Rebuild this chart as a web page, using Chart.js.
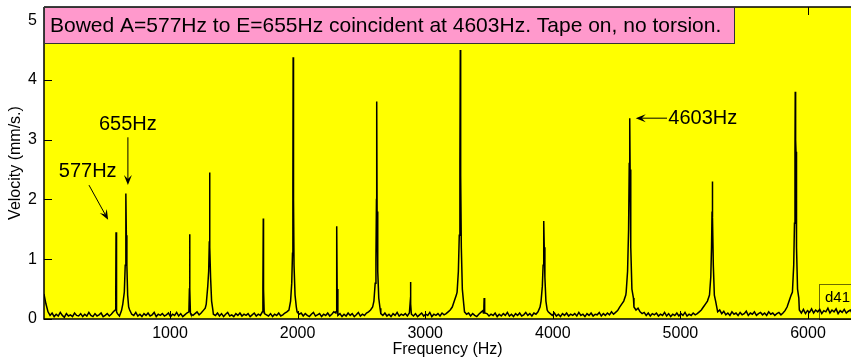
<!DOCTYPE html>
<html><head><meta charset="utf-8">
<script src="https://cdn.jsdelivr.net/npm/chart.js@4/dist/chart.umd.min.js"></script>
<style>html,body{margin:0;padding:0;background:#fff;overflow:hidden}canvas{display:block}</style>
</head><body><canvas id="c" width="851" height="359"></canvas>
<script>
// Background noise floor, sampled every 16 Hz starting at 12 Hz (mm/s)
const noiseStartHz = 12;
const noiseStepHz = 16;
const noiseVelocity = [
0.42,0.25,0.12,0.06,0.10,0.04,0.08,0.05,0.11,0.06,0.03,0.09,0.05,0.07,0.04,0.10,0.06,0.05,0.09,0.04,
0.08,0.05,0.11,0.06,0.04,0.09,0.05,0.07,0.10,0.04,0.06,0.09,0.05,0.08,0.12,0.06,0.09,0.05,0.14,0.10,
0.12,0.09,0.15,0.08,0.06,0.11,0.05,0.08,0.04,0.09,0.06,0.10,0.05,0.07,0.11,0.04,0.08,0.06,0.09,0.05,
0.07,0.10,0.04,0.08,0.06,0.11,0.05,0.09,0.04,0.07,0.10,0.05,0.08,0.06,0.09,0.12,0.07,0.10,0.14,0.18,
0.20,0.30,0.15,0.08,0.06,0.10,0.05,0.09,0.04,0.08,0.11,0.05,0.07,0.04,0.09,0.06,0.10,0.05,0.08,0.06,
0.09,0.04,0.07,0.10,0.05,0.08,0.06,0.11,0.09,0.07,0.05,0.09,0.04,0.08,0.06,0.10,0.05,0.07,0.10,0.12,
0.15,0.20,0.30,0.20,0.12,0.08,0.10,0.05,0.09,0.06,0.04,0.08,0.11,0.05,0.07,0.09,0.04,0.08,0.06,0.10,
0.05,0.08,0.12,0.10,0.06,0.09,0.04,0.08,0.05,0.10,0.06,0.09,0.04,0.07,0.11,0.05,0.08,0.06,0.10,0.12,
0.15,0.20,0.30,0.20,0.14,0.09,0.06,0.10,0.05,0.08,0.04,0.09,0.06,0.11,0.05,0.08,0.06,0.09,0.05,0.10,
0.08,0.05,0.09,0.04,0.07,0.10,0.05,0.08,0.06,0.11,0.04,0.08,0.06,0.09,0.05,0.10,0.07,0.09,0.12,0.15,
0.20,0.30,0.40,0.50,0.30,0.20,0.12,0.08,0.10,0.05,0.09,0.06,0.04,0.08,0.11,0.14,0.06,0.09,0.05,0.08,
0.06,0.10,0.04,0.08,0.05,0.09,0.06,0.11,0.05,0.08,0.04,0.09,0.06,0.10,0.05,0.07,0.11,0.06,0.09,0.05,
0.10,0.08,0.12,0.20,0.30,0.40,0.20,0.12,0.09,0.06,0.10,0.05,0.08,0.04,0.09,0.06,0.10,0.05,0.08,0.06,
0.09,0.05,0.11,0.06,0.08,0.04,0.09,0.06,0.10,0.05,0.08,0.07,0.11,0.05,0.09,0.06,0.10,0.07,0.12,0.08,
0.11,0.14,0.20,0.25,0.30,0.40,0.50,0.30,0.25,0.20,0.15,0.18,0.12,0.09,0.11,0.06,0.10,0.05,0.09,0.07,
0.10,0.05,0.08,0.06,0.11,0.05,0.09,0.04,0.08,0.06,0.10,0.05,0.09,0.06,0.11,0.05,0.08,0.06,0.10,0.07,
0.09,0.12,0.15,0.20,0.25,0.30,0.40,0.30,0.20,0.17,0.12,0.15,0.09,0.13,0.07,0.10,0.06,0.12,0.08,0.10,
0.06,0.11,0.07,0.09,0.13,0.06,0.10,0.08,0.12,0.06,0.09,0.11,0.07,0.10,0.06,0.12,0.08,0.10,0.06,0.09,
0.11,0.07,0.10,0.14,0.20,0.30,0.40,0.35,0.30,0.20,0.15,0.10,0.16,0.09,0.14,0.11,0.17,0.10,0.15,0.12,
0.16,0.09,0.14,0.12,0.18,0.10,0.15,0.12,0.17,0.09,0.14,0.11,0.16,0.10,0.13,0.15,0.09,0.14,0.12,0.15
];
// Resonance peaks: frequency points (Hz) and velocities (mm/s) for each peak
const peakFreqHz = [
[571,575,577,579,583],
[630,642,649,653,655,658,662,668,676],
[1148,1152,1154,1156,1160],
[1284,1296,1303,1308,1310,1313,1318,1326,1336],
[1724,1728,1731,1733,1738],
[1945,1954,1960,1963,1965,1968,1972,1980,1990],
[2301,2305,2308,2310,2315],
[2598,2608,2614,2618,2620,2623,2628,2636,2646],
[2879,2883,2885,2887,2891],
[3250,3260,3267,3272,3275,3278,3283,3291,3302],
[3456,3460,3462,3464,3468],
[3908,3918,3924,3928,3930,3933,3938,3946,3956],
[4575,4586,4594,4599,4603,4606,4611,4620,4632],
[5228,5238,5244,5248,5250,5253,5258,5266,5276],
[5878,5888,5894,5898,5900,5903,5906,5910,5918,5928]
];
const peakVelocity = [
[0.15,0.50,1.45,0.50,0.12],
[0.25,0.45,0.90,1.50,2.10,1.40,0.90,0.40,0.20],
[0.12,0.50,1.42,0.50,0.10],
[0.25,0.55,0.80,1.30,2.45,1.20,0.70,0.30,0.15],
[0.12,0.50,1.68,0.50,0.12],
[0.30,0.60,1.10,2.20,4.38,2.00,0.90,0.40,0.20],
[0.12,0.50,1.55,0.50,0.12],
[0.30,0.60,1.00,2.00,3.64,1.80,0.80,0.35,0.18],
[0.10,0.30,0.62,0.25,0.10],
[0.45,0.80,1.40,2.60,4.50,2.40,1.20,0.50,0.25],
[0.10,0.20,0.35,0.20,0.10],
[0.30,0.55,0.90,1.30,1.64,1.20,0.70,0.30,0.15],
[0.45,0.80,1.50,2.60,3.36,2.50,1.20,0.50,0.35],
[0.40,0.70,1.20,1.80,2.30,1.70,0.90,0.40,0.30],
[0.45,0.90,1.60,2.80,3.80,3.00,2.80,1.20,0.50,0.35]
];
const xTickValues = [1000,2000,3000,4000,5000,6000];
const yTickValues = [0,1,2,3,4,5];
const titleText = "Bowed A=577Hz to E=655Hz coincident at 4603Hz. Tape on, no torsion.";
const xAxisTitle = "Frequency (Hz)";
const yAxisTitle = "Velocity (mm/s.)";
const tagText = "d41";
// annotation labels: [text, x(Hz), y(mm/s), align]
const noteLabels = [["655Hz", 670, 3.26, "center"], ["577Hz", 355, 2.47, "center"], ["4603Hz", 4905, 3.36, "left"]];
// arrows: [x0, y0, x1, y1] in data units (tail -> head)
const noteArrows = [[670, 3.04, 670, 2.24], [365, 2.24, 515, 1.66], [4895, 3.36, 4650, 3.36]];

// assemble the spectrum from the noise floor samples and the peak points
const spectrum = [];
noiseVelocity.forEach((v, i) => {
  const f = noiseStartHz + i * noiseStepHz;
  const inPeak = peakFreqHz.some(p => f >= p[0] && f <= p[p.length - 1]);
  if (!inPeak) spectrum.push({x: f, y: v});
});
peakFreqHz.forEach((p, k) => p.forEach((f, j) => spectrum.push({x: f, y: peakVelocity[k][j]})));
spectrum.sort((a, b) => a.x - b.x);

const FONT = "'Liberation Sans', Arial, Helvetica, sans-serif";

const decor = {
  id: 'decor',
  beforeDatasetsDraw(chart) {
    const {ctx, chartArea: a} = chart;
    ctx.save();
    ctx.fillStyle = '#FFFF00';
    ctx.fillRect(a.left, a.top, a.right - a.left, a.bottom - a.top);
    ctx.strokeStyle = '#6b6b00';
    ctx.lineWidth = 1;
    ctx.strokeRect(819.5, 284.5, 60, a.bottom - 284);
    ctx.fillStyle = '#000';
    ctx.font = '15px ' + FONT;
    ctx.textBaseline = 'middle';
    ctx.textAlign = 'left';
    ctx.fillText(tagText, 825, 298);
    ctx.restore();
  },
  afterDatasetsDraw(chart) {
    const {ctx, chartArea: a, scales: {x, y}} = chart;
    ctx.save();
    ctx.strokeStyle = '#000';
    ctx.lineWidth = 1.5;
    ctx.beginPath();
    ctx.moveTo(a.left, a.top); ctx.lineTo(a.left, a.bottom); ctx.lineTo(a.right, a.bottom);
    ctx.moveTo(a.left, a.top); ctx.lineTo(a.right, a.top);
    ctx.stroke();
    ctx.lineWidth = 1;
    ctx.beginPath();
    yTickValues.forEach(v => { const py = Math.round(y.getPixelForValue(v)) + 0.5; ctx.moveTo(a.left, py); ctx.lineTo(a.left + 8, py); });
    xTickValues.forEach(v => { const px = Math.round(x.getPixelForValue(v)) + 0.5; ctx.moveTo(px, a.bottom); ctx.lineTo(px, a.bottom - 8); ctx.moveTo(px, a.top); ctx.lineTo(px, a.top + 8); });
    ctx.stroke();
    ctx.fillStyle = '#FF99CC';
    ctx.fillRect(a.left, a.top, 690, 36);
    ctx.strokeStyle = '#333';
    ctx.lineWidth = 1;
    ctx.strokeRect(a.left + 0.5, a.top + 0.5, 690, 36);
    ctx.fillStyle = '#000';
    ctx.font = '21px ' + FONT;
    ctx.textBaseline = 'middle';
    ctx.textAlign = 'left';
    ctx.fillText(titleText, a.left + 6, a.top + 19);
    ctx.font = '20px ' + FONT;
    noteLabels.forEach(([t, fx, fy, al]) => {
      ctx.textAlign = al;
      ctx.fillText(t, x.getPixelForValue(fx), y.getPixelForValue(fy));
    });
    ctx.strokeStyle = '#000';
    ctx.lineWidth = 1;
    noteArrows.forEach(([x0, y0, x1, y1]) => {
      const p0x = x.getPixelForValue(x0), p0y = y.getPixelForValue(y0);
      const p1x = x.getPixelForValue(x1), p1y = y.getPixelForValue(y1);
      const ang = Math.atan2(p1y - p0y, p1x - p0x);
      const L = 10, W = 4;
      ctx.beginPath(); ctx.moveTo(p0x, p0y); ctx.lineTo(p1x - Math.cos(ang) * 6, p1y - Math.sin(ang) * 6); ctx.stroke();
      ctx.beginPath();
      ctx.moveTo(p1x, p1y);
      ctx.lineTo(p1x - L * Math.cos(ang) + W * Math.sin(ang), p1y - L * Math.sin(ang) - W * Math.cos(ang));
      ctx.lineTo(p1x - 6 * Math.cos(ang), p1y - 6 * Math.sin(ang));
      ctx.lineTo(p1x - L * Math.cos(ang) - W * Math.sin(ang), p1y - L * Math.sin(ang) + W * Math.cos(ang));
      ctx.closePath();
      ctx.fillStyle = '#000';
      ctx.fill();
    });
    ctx.restore();
  }
};

new Chart(document.getElementById('c'), {
  type: 'line',
  data: {
    datasets: [{
      data: spectrum,
      borderColor: '#000',
      borderWidth: 1.5,
      pointRadius: 0,
      tension: 0,
      fill: false
    }]
  },
  options: {
    responsive: false,
    animation: false,
    devicePixelRatio: 1,
    layout: {padding: {top: 7, right: 0, left: 0, bottom: 0}},
    plugins: {legend: {display: false}, tooltip: {enabled: false}},
    scales: {
      x: {
        type: 'linear', min: 12.5, max: 6337,
        afterFit: s => { s.height = 40; s.paddingLeft = 0; s.paddingRight = 0; },
        afterBuildTicks: s => { s.ticks = xTickValues.map(v => ({value: v})); },
        grid: {display: false, drawTicks: false}, border: {display: false},
        ticks: {color: '#000', font: {family: FONT, size: 16}, padding: 5, maxRotation: 0, autoSkip: false, callback: v => String(v)},
        title: {display: true, text: xAxisTitle, color: '#000', font: {family: FONT, size: 16}, padding: {top: 0, bottom: 0}}
      },
      y: {
        min: 0, max: 5.22,
        afterFit: s => { s.width = 44; s.paddingTop = 0; s.paddingBottom = 0; },
        afterBuildTicks: s => { s.ticks = yTickValues.map(v => ({value: v})); },
        grid: {display: false, drawTicks: false}, border: {display: false},
        ticks: {color: '#000', font: {family: FONT, size: 16}, padding: 7, callback: v => String(v)},
        title: {display: true, text: yAxisTitle, color: '#000', font: {family: FONT, size: 16}, padding: {top: 6, bottom: 0}}
      }
    }
  },
  plugins: [decor]
});
</script>
</body></html>
